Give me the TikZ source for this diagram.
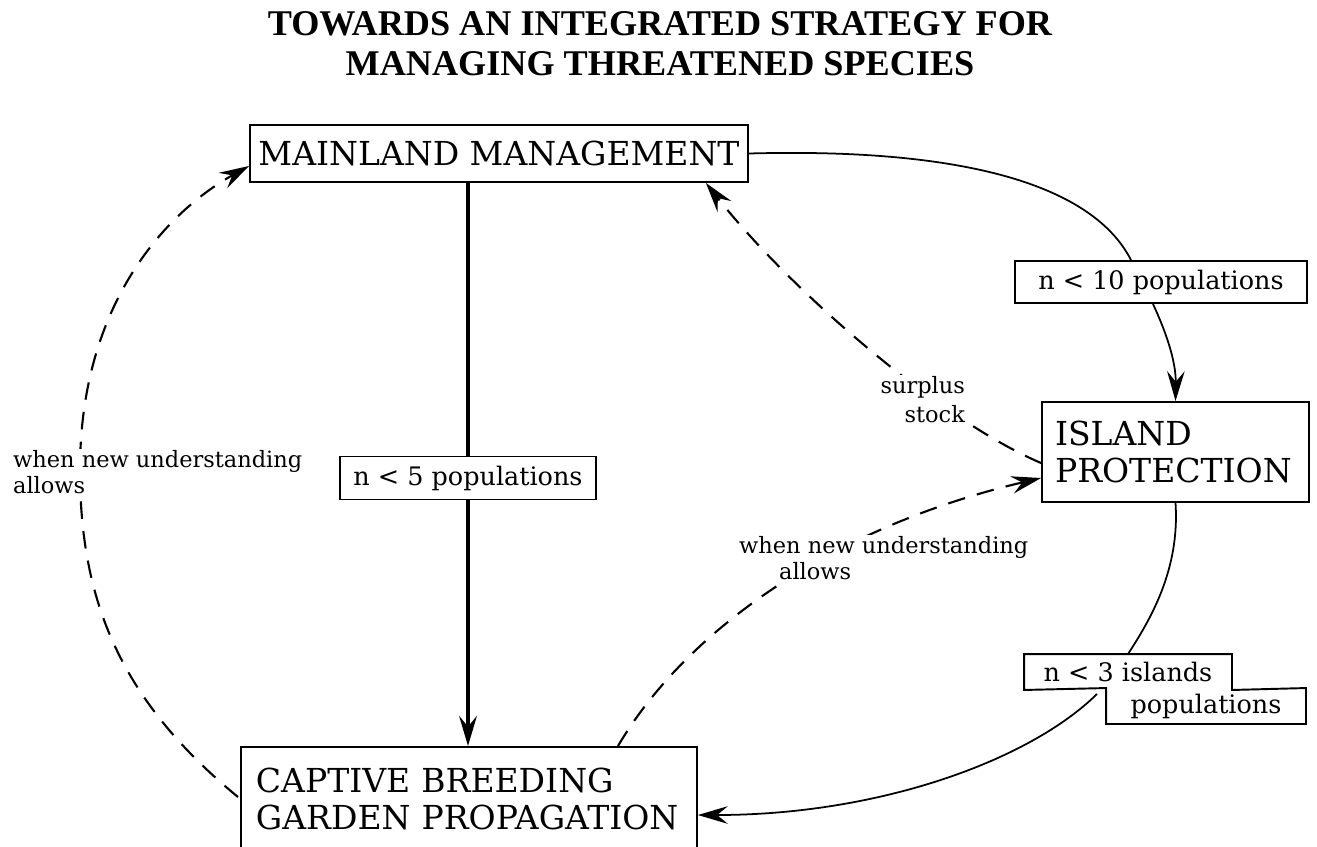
\documentclass[tikz,border=0pt]{standalone}
\usepackage{fontspec}
\setmainfont{DejaVu Serif}
\newfontfamily\titlefont{Liberation Serif}
\usetikzlibrary{arrows.meta,calc}

\begin{document}
\begin{tikzpicture}[x=0.02cm,y=-0.02cm]
  \tikzstyle{box}=[draw=black, line width=1.1pt, inner sep=0pt, font=\fontsize{18.8}{21}\selectfont]
  \tikzstyle{cond}=[draw=black, line width=1.1pt, inner sep=0pt, font=\fontsize{14.5}{17}\selectfont]
  \tikzstyle{lbl}=[fill=white, inner sep=1pt, align=left, font=\fontsize{12.8}{14.7}\selectfont]
  \tikzstyle{edge}=[draw, line width=1pt]
  \tikzstyle{thickedge}=[draw, line width=2.4pt]
  \tikzstyle{dashedge}=[draw, line width=1.2pt, dash pattern=on 10pt off 7pt]
  \tikzstyle{arr}=[-{Stealth[length=17pt,width=10pt,inset=6pt]}]

  \clip (0,0) rectangle (1317,846);

  \node[font=\titlefont\bfseries\fontsize{20.6}{22.7}\selectfont, align=center] (title) at (660,44)
    {TOWARDS AN INTEGRATED STRATEGY FOR\\MANAGING THREATENED SPECIES};

  \node[box, minimum width=9.96cm, minimum height=1.14cm] (main) at (499,153.5) {MAINLAND MANAGEMENT};
  \node[cond, minimum width=5.12cm, minimum height=0.86cm] (n5) at (468,478) {n < 5 populations};
  \node[box, anchor=north west, align=left, text width=8.52cm, inner xsep=0.3cm, inner ysep=0.42cm] (cap) at (240,746)
    {CAPTIVE BREEDING\\GARDEN PROPAGATION};
  \node[box, align=left, text width=4.82cm, inner xsep=0.26cm, minimum height=2cm] (isl) at (1175.5,452)
    {ISLAND\\PROTECTION};
  \node[cond, minimum width=5.84cm, minimum height=0.84cm] (n10) at (1161,282) {n < 10 populations};
  \node[cond, draw=none, minimum width=4.12cm, minimum height=0.68cm] (n3a) at (1128,672) {n < 3 islands};
  \node[cond, draw=none, minimum width=3.96cm, minimum height=0.68cm] (n3b) at (1206,706) {populations};
  \draw[line width=1.1pt] (n3a.north west) -- (n3a.north east) -- (n3a.south east) -- (n3b.north east)
    -- (n3b.south east) -- (n3b.south west) -- (n3b.north west) -- (n3a.south west) -- cycle;

  % solid links
  \path[edge] (main.east) .. controls (950,148) and (1090,180) .. ($(n10.north)+(-30,0)$);
  \path[edge,arr] ($(n10.south)+(-8,0)$) .. controls (1165,330) and (1176,360) .. (isl.north);
  \path[edge] (isl.south) .. controls (1180,570) and (1150,620) .. (n3a.north);
  \path[edge,arr] ($(n3a.south)+(-31,4)$) .. controls (1030,760) and (880,815) .. ($(cap.north east)+(0,69)$);
  \path[thickedge] (main.south -| n5.north) -- (n5.north);
  \path[thickedge,arr] (n5.south) -- (n5.south |- cap.north);

  % dashed links
  \path[dashedge,arr] ($(isl.west)+(0,11)$) .. controls (940,420) and (790,290) .. ($(main.south east)+(-43,0)$);
  \path[dashedge,arr] ($(cap.north west)+(378,0)$) .. controls (680,640) and (820,530) .. ($(isl.west)+(0,26)$);
  \path[dashedge,arr] ($(cap.north west)+(-2,51)$) .. controls (120,700) and (80,600) .. (80,470)
    .. controls (80,300) and (170,210) .. ($(main.south west)+(0,-17)$);

  \node[lbl, anchor=east, align=right, font=\fontsize{12.8}{16.4}\selectfont] (surplus) at (967,400) {surplus\\stock};
  \node[lbl, anchor=west] (newleft) at (11,472) {when new understanding\\allows};
  \node[lbl, anchor=west] (newmid) at (737,558) {when new understanding\\\hspace*{0.8cm}allows};
\end{tikzpicture}
\end{document}
